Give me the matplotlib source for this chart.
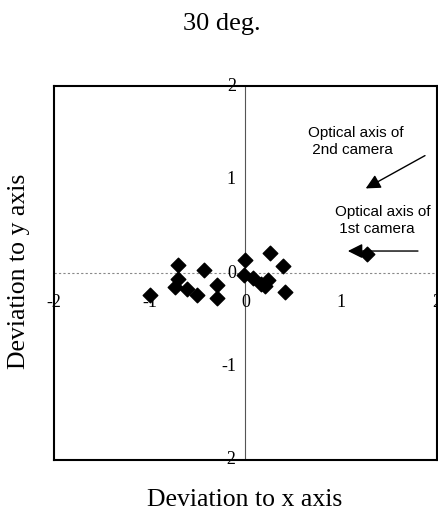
import matplotlib.pyplot as plt
import numpy as np

# deviation data
x_dev = [-1.0, -0.71, -0.71, -0.74, -0.61, -0.51, -0.43, -0.30, -0.30,
         -0.01, -0.02, 0.08, 0.16, 0.24, 0.20, 0.26, 0.39, 0.41, 1.27]
y_dev = [-0.24, 0.09, -0.06, -0.15, -0.17, -0.23, 0.03, -0.13, -0.27,
         0.14, -0.02, -0.05, -0.12, -0.08, -0.14, 0.21, 0.08, -0.20, 0.20]

ticks = [-2, -1, 0, 1, 2]
tick_labels = ['-2', '-1', '0', '1', '2']

serif = ['Liberation Serif', 'DejaVu Serif']
sans = ['Liberation Sans', 'DejaVu Sans']

fig = plt.figure(figsize=(4.38, 5.16), dpi=100)
ax = fig.add_axes([54 / 438, 56 / 516, 383 / 438, 374 / 516])

ax.set_xlim(-2, 2)
ax.set_ylim(-2, 2)

# zero lines
ax.axvline(0, color='#555555', lw=0.8, zorder=1)
ax.axhline(0, color='#888888', lw=0.8, ls=(0, (2, 2)), zorder=1)

ax.scatter(x_dev, y_dev, marker='D', s=55, color='black', zorder=3)

# tick labels drawn along the zero lines
for t, lab in zip(ticks, tick_labels):
    ax.text(t, -0.32, lab, ha='center', va='center', fontsize=13,
            family=serif, clip_on=False)
    ax.text(-0.1, t, lab, ha='right', va='center', fontsize=13,
            family=serif, clip_on=False)

ax.set_xticks([])
ax.set_yticks([])
for sp in ax.spines.values():
    sp.set_linewidth(1.5)

# annotations
ax.annotate('', xy=(1.23, 0.89), xytext=(1.90, 1.27),
            arrowprops=dict(arrowstyle='-|>', color='black', lw=1,
                            mutation_scale=22))
ax.text(0.65, 1.41, 'Optical axis of\n 2nd camera', fontsize=11,
        family=sans, ha='left', va='center', linespacing=1.3)
ax.annotate('', xy=(1.04, 0.235), xytext=(1.83, 0.235),
            arrowprops=dict(arrowstyle='-|>', color='black', lw=1,
                            mutation_scale=22))
ax.text(0.93, 0.565, 'Optical axis of\n 1st camera', fontsize=11,
        family=sans, ha='left', va='center', linespacing=1.3)

fig.text(222 / 438, 1 - 24 / 516, '30 deg.', ha='center', va='center',
         fontsize=19, family=serif)
fig.text(245 / 438, 1 - 500 / 516, 'Deviation to x axis', ha='center',
         va='center', fontsize=18.5, family=serif)
fig.text(19 / 438, 1 - 271 / 516, 'Deviation to y axis', ha='center',
         va='center', fontsize=18.5, family=serif, rotation=90)

fig.savefig('out.png', dpi=100)
